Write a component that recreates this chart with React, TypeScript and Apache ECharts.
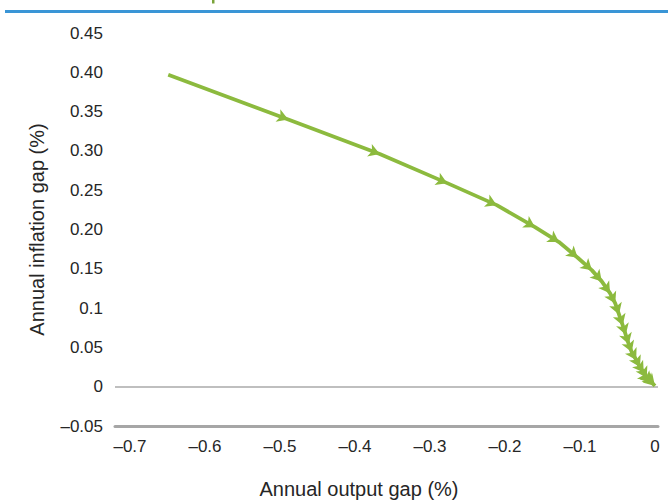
import React, { useEffect, useRef } from "react";
import * as echarts from "echarts";

// Trajectory of (output gap, inflation gap)
const outputGap = [
  -0.649, -0.489, -0.367, -0.277, -0.211, -0.16, -0.128, -0.103, -0.084, -0.071,
  -0.06, -0.053, -0.048, -0.043, -0.039, -0.035, -0.031, -0.025, -0.02, -0.015,
  -0.011, -0.007, -0.004, -0.0015, 0,
];
const inflationGap = [
  0.397, 0.34, 0.296, 0.259, 0.231, 0.203, 0.184, 0.164, 0.148, 0.134,
  0.119, 0.106, 0.092, 0.078, 0.066, 0.054, 0.044, 0.034, 0.025, 0.018,
  0.011, 0.008, 0.005, 0.0025, 0.001,
];

const xTickValues = [-0.7, -0.6, -0.5, -0.4, -0.3, -0.2, -0.1, 0];
const xTickLabels = ["–0.7", "–0.6", "–0.5", "–0.4", "–0.3", "–0.2", "–0.1", "0"];
const yTickValues = [-0.05, 0, 0.05, 0.1, 0.15, 0.2, 0.25, 0.3, 0.35, 0.4, 0.45];
const yTickLabels = ["–0.05", "0", "0.05", "0.1", "0.15", "0.20", "0.25", "0.30", "0.35", "0.40", "0.45"];

const xTitle = "Annual output gap (%)";
const yTitle = "Annual inflation gap (%)";

const GREEN = "#8cba3e";
const TEXT = "#262626";
const FONT = "'Liberation Sans', Arial, Helvetica, sans-serif";

function lookup(values: number[], labels: string[], v: number) {
  const i = values.findIndex((t) => Math.abs(t - v) < 1e-6);
  return i >= 0 ? labels[i] : "";
}

export default function App() {
  const ref = useRef<HTMLDivElement>(null);
  useEffect(() => {
    if (!ref.current) return;
    const chart = echarts.init(ref.current, null, { renderer: "svg" });
    const baseData = outputGap.map((x, i) => ({
      value: [x, inflationGap[i]],
      symbol: i === 0 ? "none" : "arrow",
    }));
    const option: any = {
      animation: false,
      backgroundColor: "#ffffff",
      textStyle: { fontFamily: FONT },
      grid: { left: 115, right: 10, top: 33, bottom: 74, containLabel: false },
      graphic: [
        {
          type: "rect",
          shape: { x: 5, y: 10, width: 663, height: 3 },
          style: { fill: "#3a95d6" },
          silent: true,
        },
        {
          type: "rect",
          shape: { x: 212, y: 0, width: 2.5, height: 3.5 },
          style: { fill: "#7aa33a" },
          silent: true,
        },
      ],
      xAxis: {
        type: "value",
        min: -0.72,
        max: 0.004,
        name: xTitle,
        nameLocation: "middle",
        nameGap: 53,
        nameTextStyle: {
          fontSize: 20,
          color: TEXT,
          fontFamily: FONT,
          padding: [0, 55, 0, 0],
        },
        axisLine: { show: true, onZero: false, lineStyle: { color: "#a6a6a6", width: 3 } },
        axisTick: { show: false },
        splitLine: { show: false },
        axisLabel: {
          customValues: xTickValues,
          formatter: (v: number) => lookup(xTickValues, xTickLabels, v),
          fontSize: 17,
          color: TEXT,
          fontFamily: FONT,
          margin: 12,
        },
      },
      yAxis: {
        type: "value",
        min: -0.05,
        max: 0.45,
        interval: 0.05,
        name: yTitle,
        nameLocation: "middle",
        nameGap: 68,
        nameTextStyle: { fontSize: 20, color: TEXT, fontFamily: FONT },
        axisLine: { show: false },
        axisTick: { show: false },
        splitLine: { show: false },
        axisLabel: {
          formatter: (v: number) => lookup(yTickValues, yTickLabels, v),
          fontSize: 17,
          color: TEXT,
          fontFamily: FONT,
          margin: 12,
        },
      },
      series: [
        {
          type: "line",
          data: baseData,
          symbolSize: [10, 11],
          showSymbol: true,
          itemStyle: { color: GREEN },
          lineStyle: { color: GREEN, width: 3.8 },
          markLine: {
            silent: true,
            symbol: ["none", "none"],
            label: { show: false },
            lineStyle: { color: "#aaaaaa", width: 1.5, type: "solid" },
            data: [{ yAxis: 0 }],
            z: 1,
          },
          z: 3,
        },
      ],
    };
    chart.setOption(option);
    // Orient each arrow along the direction of travel, using the chart's own scales
    const pts = outputGap.map((x, i) =>
      chart.convertToPixel({ seriesIndex: 0 }, [x, inflationGap[i]]) as number[]
    );
    const rotated = baseData.map((d, i) => {
      if (i === 0) return d;
      const dx = pts[i][0] - pts[i - 1][0];
      const dy = pts[i][1] - pts[i - 1][1];
      const ang = (Math.atan2(-dy, dx) * 180) / Math.PI - 90;
      return { ...d, symbolRotate: ang };
    });
    chart.setOption({ series: [{ data: rotated }] });
    return () => chart.dispose();
  }, []);
  return (
    <div
      ref={ref}
      style={{ position: "absolute", left: 0, top: 0, width: 668, height: 504 }}
    />
  );
}
